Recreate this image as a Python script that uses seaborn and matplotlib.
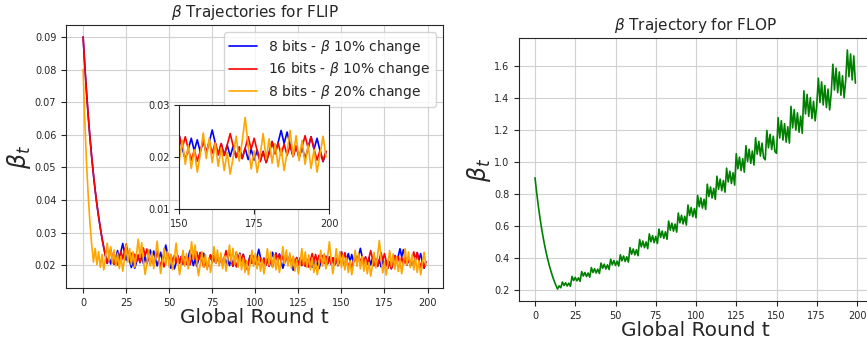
import numpy as np
import pandas as pd
import matplotlib
matplotlib.use("Agg")
import matplotlib.pyplot as plt
import seaborn as sns

rounds = list(range(200))

beta_8bit_10 = [
    0.0900, 0.0810, 0.0729, 0.0656, 0.0590, 0.0531, 0.0478, 0.0430, 0.0387, 0.0349,
    0.0314, 0.0282, 0.0254, 0.0229, 0.0206,
    0.0227, 0.0204, 0.0225, 0.0203, 0.0223, 0.0245, 0.0221, 0.0243, 0.0267, 0.0240,
    0.0216, 0.0238, 0.0214, 0.0193, 0.0212, 0.0191, 0.0210, 0.0231, 0.0208, 0.0229,
    0.0206, 0.0227, 0.0204, 0.0225, 0.0247, 0.0222, 0.0244, 0.0220, 0.0198, 0.0218,
    0.0240, 0.0216, 0.0238, 0.0262, 0.0236, 0.0212, 0.0191, 0.0210, 0.0189, 0.0208,
    0.0229, 0.0206, 0.0227, 0.0204, 0.0225, 0.0203, 0.0223, 0.0245, 0.0221, 0.0199,
    0.0219, 0.0197, 0.0217, 0.0239, 0.0215, 0.0237, 0.0213, 0.0192, 0.0211, 0.0232,
    0.0209, 0.0230, 0.0207, 0.0228, 0.0205, 0.0226, 0.0203, 0.0223, 0.0201, 0.0221,
    0.0199, 0.0219, 0.0197, 0.0217, 0.0239, 0.0215, 0.0237, 0.0213, 0.0234, 0.0211,
    0.0190, 0.0209, 0.0230, 0.0207, 0.0228, 0.0205, 0.0226, 0.0249, 0.0224, 0.0202,
    0.0222, 0.0200, 0.0220, 0.0198, 0.0218, 0.0240, 0.0216, 0.0238, 0.0214, 0.0235,
    0.0212, 0.0191, 0.0210, 0.0231, 0.0208, 0.0229, 0.0206, 0.0185, 0.0204, 0.0224,
    0.0202, 0.0222, 0.0200, 0.0220, 0.0198, 0.0218, 0.0196, 0.0216, 0.0194, 0.0213,
    0.0192, 0.0211, 0.0190, 0.0209, 0.0230, 0.0207, 0.0228, 0.0205, 0.0226, 0.0203,
    0.0223, 0.0201, 0.0221, 0.0199, 0.0219, 0.0241, 0.0217, 0.0195, 0.0215, 0.0236,
    0.0212, 0.0233, 0.0210, 0.0231, 0.0208, 0.0229, 0.0252, 0.0227, 0.0204, 0.0225,
    0.0203, 0.0223, 0.0201, 0.0221, 0.0199, 0.0219, 0.0197, 0.0217, 0.0195, 0.0215,
    0.0194, 0.0213, 0.0192, 0.0211, 0.0190, 0.0209, 0.0230, 0.0207, 0.0228, 0.0251,
    0.0226, 0.0248, 0.0223, 0.0201, 0.0221, 0.0199, 0.0219, 0.0197, 0.0217, 0.0239,
    0.0215, 0.0236, 0.0212, 0.0191, 0.0210,
]

beta_16bit_10 = [
    0.0900, 0.0810, 0.0729, 0.0656, 0.0590, 0.0531, 0.0478, 0.0430, 0.0387, 0.0349,
    0.0314, 0.0282, 0.0254, 0.0229, 0.0206,
    0.0227, 0.0250, 0.0225, 0.0203, 0.0223, 0.0201, 0.0221, 0.0243, 0.0219, 0.0241,
    0.0265, 0.0239, 0.0215, 0.0237, 0.0213, 0.0234, 0.0211, 0.0232, 0.0209, 0.0230,
    0.0253, 0.0228, 0.0250, 0.0225, 0.0203, 0.0223, 0.0201, 0.0221, 0.0243, 0.0219,
    0.0197, 0.0217, 0.0195, 0.0215, 0.0236, 0.0212, 0.0233, 0.0210, 0.0231, 0.0208,
    0.0229, 0.0206, 0.0227, 0.0204, 0.0225, 0.0203, 0.0223, 0.0201, 0.0221, 0.0243,
    0.0219, 0.0241, 0.0217, 0.0239, 0.0215, 0.0194, 0.0213, 0.0192, 0.0211, 0.0232,
    0.0209, 0.0230, 0.0207, 0.0228, 0.0205, 0.0226, 0.0203, 0.0223, 0.0245, 0.0221,
    0.0243, 0.0219, 0.0197, 0.0217, 0.0195, 0.0215, 0.0236, 0.0212, 0.0233, 0.0210,
    0.0189, 0.0208, 0.0229, 0.0206, 0.0227, 0.0204, 0.0225, 0.0203, 0.0223, 0.0201,
    0.0221, 0.0199, 0.0219, 0.0197, 0.0217, 0.0195, 0.0215, 0.0236, 0.0212, 0.0233,
    0.0210, 0.0231, 0.0208, 0.0229, 0.0206, 0.0227, 0.0204, 0.0225, 0.0203, 0.0223,
    0.0201, 0.0221, 0.0199, 0.0219, 0.0197, 0.0217, 0.0195, 0.0215, 0.0236, 0.0212,
    0.0233, 0.0210, 0.0231, 0.0208, 0.0229, 0.0206, 0.0227, 0.0204, 0.0225, 0.0203,
    0.0223, 0.0201, 0.0221, 0.0199, 0.0219, 0.0241, 0.0217, 0.0239, 0.0215, 0.0194,
    0.0213, 0.0192, 0.0211, 0.0232, 0.0209, 0.0230, 0.0207, 0.0228, 0.0205, 0.0226,
    0.0203, 0.0223, 0.0245, 0.0221, 0.0199, 0.0219, 0.0197, 0.0217, 0.0239, 0.0215,
    0.0236, 0.0212, 0.0191, 0.0210, 0.0189, 0.0208, 0.0229, 0.0206, 0.0227, 0.0204,
    0.0225, 0.0203, 0.0223, 0.0201, 0.0221, 0.0199, 0.0219, 0.0241, 0.0217, 0.0239,
    0.0215, 0.0194, 0.0213, 0.0192, 0.0211,
]

beta_8bit_20 = [
    0.0800, 0.0640, 0.0512, 0.0410, 0.0328, 0.0262, 0.0210,
    0.0252, 0.0202, 0.0242, 0.0194, 0.0233, 0.0186, 0.0223, 0.0268, 0.0214, 0.0257,
    0.0206, 0.0247, 0.0198, 0.0237, 0.0190, 0.0228, 0.0182, 0.0218, 0.0262, 0.0210,
    0.0252, 0.0202, 0.0242, 0.0194, 0.0233, 0.0280, 0.0224, 0.0269, 0.0215, 0.0172,
    0.0206, 0.0247, 0.0198, 0.0238, 0.0190, 0.0228, 0.0274, 0.0219, 0.0175, 0.0210,
    0.0252, 0.0202, 0.0242, 0.0194, 0.0233, 0.0186, 0.0223, 0.0268, 0.0214, 0.0171,
    0.0205, 0.0246, 0.0197, 0.0236, 0.0189, 0.0227, 0.0272, 0.0218, 0.0262, 0.0210,
    0.0168, 0.0202, 0.0242, 0.0194, 0.0233, 0.0186, 0.0223, 0.0178, 0.0214, 0.0257,
    0.0206, 0.0247, 0.0198, 0.0238, 0.0190, 0.0228, 0.0182, 0.0218, 0.0262, 0.0210,
    0.0252, 0.0202, 0.0242, 0.0194, 0.0233, 0.0186, 0.0223, 0.0178, 0.0214, 0.0171,
    0.0205, 0.0246, 0.0197, 0.0236, 0.0189, 0.0227, 0.0182, 0.0218, 0.0174, 0.0209,
    0.0251, 0.0201, 0.0241, 0.0193, 0.0232, 0.0186, 0.0223, 0.0178, 0.0214, 0.0257,
    0.0206, 0.0247, 0.0198, 0.0238, 0.0190, 0.0228, 0.0182, 0.0218, 0.0174, 0.0209,
    0.0251, 0.0201, 0.0241, 0.0193, 0.0232, 0.0186, 0.0223, 0.0178, 0.0214, 0.0171,
    0.0205, 0.0246, 0.0197, 0.0236, 0.0189, 0.0227, 0.0272, 0.0218, 0.0174, 0.0209,
    0.0251, 0.0201, 0.0241, 0.0193, 0.0232, 0.0186, 0.0223, 0.0178, 0.0214, 0.0171,
    0.0205, 0.0246, 0.0197, 0.0236, 0.0189, 0.0227, 0.0182, 0.0218, 0.0174, 0.0209,
    0.0167, 0.0200, 0.0240, 0.0192, 0.0230, 0.0276, 0.0221, 0.0177, 0.0212, 0.0170,
    0.0204, 0.0245, 0.0196, 0.0235, 0.0188, 0.0226, 0.0181, 0.0217, 0.0174, 0.0209,
    0.0251, 0.0201, 0.0241, 0.0193, 0.0232, 0.0186, 0.0223, 0.0178, 0.0214, 0.0171,
    0.0205, 0.0240, 0.0200,
]

beta_flop = [
    0.900, 0.810, 0.729, 0.656, 0.590, 0.531, 0.478, 0.430, 0.387, 0.349,
    0.314, 0.282, 0.254, 0.229, 0.206, 0.226, 0.214,
    0.250, 0.228, 0.245, 0.225, 0.243, 0.223,
    0.285, 0.259, 0.279, 0.257, 0.276, 0.254,
    0.315, 0.287, 0.309, 0.284, 0.306, 0.280,
    0.340, 0.309, 0.333, 0.306, 0.330, 0.303,
    0.368, 0.335, 0.361, 0.331, 0.357, 0.328,
    0.392, 0.357, 0.384, 0.353, 0.380, 0.349,
    0.420, 0.382, 0.412, 0.378, 0.407, 0.374,
    0.465, 0.423, 0.456, 0.419, 0.451, 0.414,
    0.515, 0.469, 0.505, 0.464, 0.500, 0.458,
    0.550, 0.501, 0.539, 0.495, 0.534, 0.490,
    0.580, 0.528, 0.568, 0.522, 0.563, 0.516,
    0.630, 0.573, 0.617, 0.567, 0.611, 0.561,
    0.680, 0.619, 0.666, 0.612, 0.660, 0.605,
    0.730, 0.664, 0.715, 0.657, 0.708, 0.650,
    0.790, 0.719, 0.774, 0.711, 0.766, 0.703,
    0.860, 0.783, 0.843, 0.774, 0.834, 0.765,
    0.910, 0.828, 0.892, 0.819, 0.883, 0.810,
    0.960, 0.874, 0.941, 0.864, 0.931, 0.854,
    1.050, 0.956, 1.029, 0.945, 1.019, 0.935,
    1.100, 1.001, 1.078, 0.990, 1.067, 0.979,
    1.150, 1.047, 1.127, 1.035, 1.116, 1.024, 1.012,
    1.195, 1.087, 1.171, 1.076, 1.159, 1.064, 1.052,
    1.275, 1.148, 1.256, 1.135, 1.237, 1.122, 1.218, 1.116,
    1.345, 1.211, 1.325, 1.197, 1.305, 1.184, 1.284, 1.177,
    1.442, 1.298, 1.420, 1.283, 1.399, 1.269, 1.377, 1.255, 1.355,
    1.521, 1.369, 1.498, 1.354, 1.475, 1.338, 1.453, 1.323, 1.430,
    1.608, 1.447, 1.584, 1.431, 1.560, 1.415, 1.536, 1.399, 1.512,
    1.697, 1.530, 1.672, 1.510, 1.660, 1.490,
]

series_labels = ["8 bits - $\\beta$ 10% change",
                 "16 bits - $\\beta$ 10% change",
                 "8 bits - $\\beta$ 20% change"]
series_colors = ["blue", "red", "orange"]
x_ticks = [0, 25, 50, 75, 100, 125, 150, 175, 200]

sns.set_style("whitegrid", {
    "axes.edgecolor": "0.15",
    "axes.linewidth": 1.0,
    "grid.color": "0.82",
    "xtick.bottom": True,
    "ytick.left": True,
    "xtick.color": "0.15",
    "ytick.color": "0.15",
})
plt.rcParams["font.family"] = ["DejaVu Sans"]

fig = plt.figure(figsize=(8.67, 3.39), dpi=100)
ax1 = fig.add_axes([0.0761, 0.1504, 0.4348, 0.7758])
ax2 = fig.add_axes([0.5986, 0.1121, 0.4065, 0.7758])

df_left = pd.DataFrame({
    "t": rounds * 3,
    "beta": beta_8bit_10 + beta_16bit_10 + beta_8bit_20,
    "series": [series_labels[0]] * 200 + [series_labels[1]] * 200 + [series_labels[2]] * 200,
})

for lab, col in zip(series_labels, series_colors):
    sub = df_left[df_left["series"] == lab]
    sns.lineplot(data=sub, x="t", y="beta", color=col, label=lab, ax=ax1, linewidth=1.2)

ax1.set_xticks(x_ticks)
ax1.set_title("$\\beta$ Trajectories for FLIP", fontsize=11)
ax1.set_xlabel("Global Round t", fontsize=14.5, labelpad=0)
ax1.set_ylabel("$\\beta_t$", fontsize=17, labelpad=1)
ax1.tick_params(labelsize=7, length=3.5, width=0.8)
ax1.legend(loc="upper right", fontsize=10, frameon=True, framealpha=0.8,
           edgecolor="0.8", handlelength=2.0, labelspacing=0.35)

# inset
axin = fig.add_axes([0.2068, 0.3835, 0.1727, 0.3068])
axin.set_facecolor("white")
for lab, col in zip(series_labels, series_colors):
    sub = df_left[(df_left["series"] == lab) & (df_left["t"] >= 150)]
    sns.lineplot(data=sub, x="t", y="beta", color=col, ax=axin, linewidth=1.2, legend=False)
axin.set_xlim(150, 200)
axin.set_ylim(0.01, 0.03)
axin.set_xticks([150, 175, 200])
axin.set_yticks([0.01, 0.02, 0.03])
axin.grid(False)
axin.set_xlabel("")
axin.set_ylabel("")
axin.tick_params(labelsize=7, length=3.5, width=0.8)
for s in axin.spines.values():
    s.set_visible(True)
    s.set_color("0.15")

df_right = pd.DataFrame({"t": rounds, "beta": beta_flop})
sns.lineplot(data=df_right, x="t", y="beta", color="green", ax=ax2, linewidth=1.2)
ax2.set_xticks(x_ticks)
ax2.set_yticks([0.2, 0.4, 0.6, 0.8, 1.0, 1.2, 1.4, 1.6])
ax2.set_title("$\\beta$ Trajectory for FLOP", fontsize=11)
ax2.set_xlabel("Global Round t", fontsize=14.5, labelpad=0)
ax2.set_ylabel("$\\beta_t$", fontsize=17, labelpad=1)
ax2.tick_params(labelsize=7, length=3.5, width=0.8)

fig.savefig("out.png", dpi=100)
